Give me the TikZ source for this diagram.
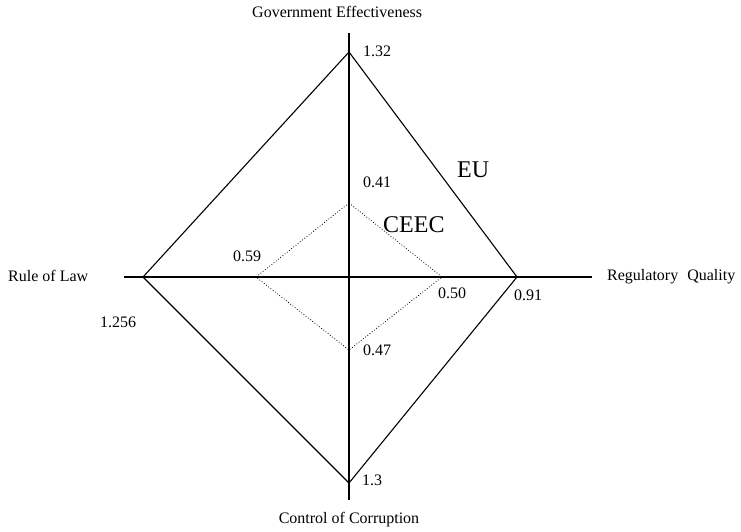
\documentclass[tikz,border=0pt]{standalone}
\usepackage{fontspec}
\setmainfont{Liberation Serif}
\usetikzlibrary{positioning}

\begin{document}
\begin{tikzpicture}[x=1pt,y=-1pt,
    axisline/.style={black, line width=1.1pt},
    euline/.style={black, line width=1.1pt},
    ceecline/.style={black, dotted, line width=0.8pt},
    lbl/.style={anchor=base west, inner sep=0pt, font=\fontsize{16}{19}\selectfont},
    big/.style={anchor=base west, inner sep=0pt, font=\fontsize{24}{28}\selectfont}]
     \useasboundingbox (0,0) rectangle (741,532);

     % axes
     \coordinate (top) at (349,33);
     \coordinate (bot) at (349,500);
     \coordinate (lft) at (124,277);
     \coordinate (rgt) at (592,277);
     \draw [axisline] (top) -- (bot);
     \draw [axisline] (lft) -- (rgt);

     % EU
     \coordinate (eu-n) at (349,52);
     \coordinate (eu-e) at (517,277);
     \coordinate (eu-s) at (349,483);
     \coordinate (eu-w) at (143,277);
     \draw [euline] (eu-n) -- (eu-e) -- (eu-s) -- (eu-w) -- cycle;

     % CEEC
     \coordinate (ce-n) at (349,203);
     \coordinate (ce-e) at (442,277);
     \coordinate (ce-s) at (349,350);
     \coordinate (ce-w) at (256,277);
     \draw [ceecline] (ce-n) -- (ce-e) -- (ce-s) -- (ce-w) -- cycle;

     \node [lbl] (ge) at (252,18){Government Effectiveness};
     \node [lbl, anchor=base] (cc) at (349,523){Control of Corruption};
     \node [lbl] (rl) at (8,281){Rule of Law};
     \node [lbl] (rq) at (607,280){Regulatory\hspace{9pt}Quality};

     \node [lbl] (v-ge-eu) at (363,57){1.32};
     \node [lbl] (v-cc-eu) at (362,485){1.3};
     \node [lbl] (v-rq-eu) at (514,300){0.91};
     \node [lbl] (v-rl-eu) at (100,327){1.256};
     \node [lbl] (v-rl-ce) at (233,261){0.59};
     \node [lbl] (v-ge-ce) at (363,187){0.41};
     \node [lbl] (v-rq-ce) at (438,298){0.50};
     \node [lbl] (v-cc-ce) at (363,355){0.47};

     \node [big] (eu) at (457,177){EU};
     \node [big] (ceec) at (383,232){CEEC};
\end{tikzpicture}
\end{document}
